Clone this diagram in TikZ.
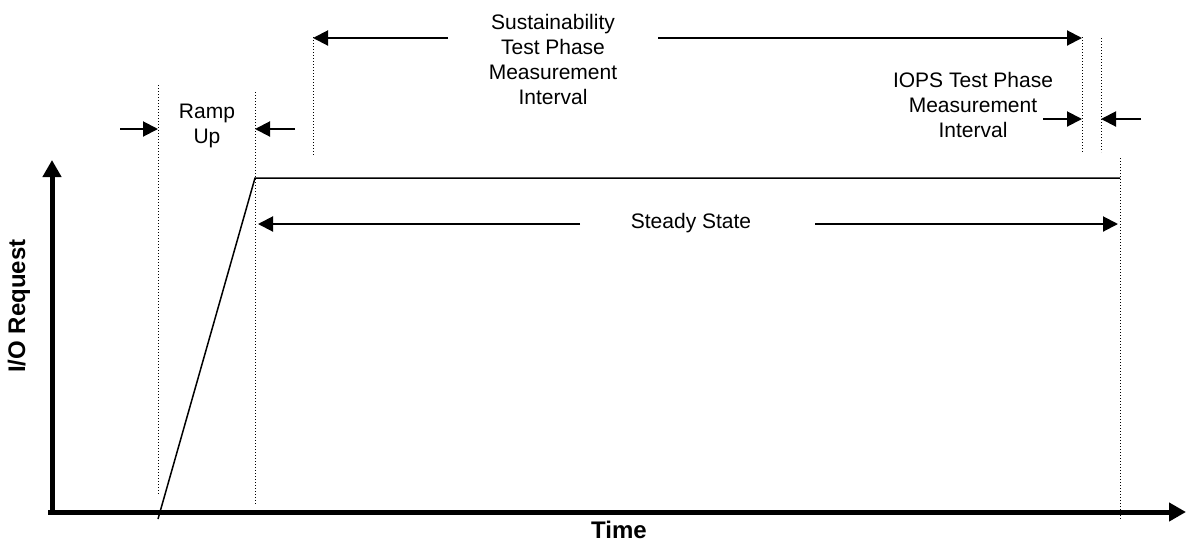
\documentclass[tikz,border=0pt]{standalone}
\usepackage{fontspec}
\setmainfont{Liberation Sans}
\usetikzlibrary{arrows.meta}
\begin{document}
\begin{tikzpicture}[x=1pt,y=-1pt,
  axis/.style={line width=5pt,-{Triangle[length=17pt,width=18pt]}},
  dimarrow/.style={line width=2pt,-{Triangle[length=15pt,width=15pt]}},
  guide/.style={line width=1pt,dash pattern=on 1pt off 2pt},
  curve/.style={line width=1.5pt},
  lbl/.style={font=\fontsize{21}{25}\selectfont,align=center,inner sep=0pt},
  blbl/.style={font=\fontsize{24}{28}\selectfont\bfseries,inner sep=0pt}]
\useasboundingbox (0,0) rectangle (1187,542);
% axes
\coordinate (o) at (52,512);
\coordinate (ytop) at (52,160);
\coordinate (xs) at (48,512);
\coordinate (xend) at (1186,512);
\draw[axis] (xs) -- (xend);
\draw[line width=5pt,-{Triangle[length=17pt,width=18pt]}] (52,514.5) -- (ytop);
% ramp curve
\coordinate (r0) at (158,519);
\coordinate (r1) at (255,178);
\coordinate (r2) at (1120,178);
\draw[curve,line join=miter] (r0) -- (r1) -- (r2);
% guides
\coordinate (g1a) at (158,85);   \coordinate (g1b) at (158,495);
\coordinate (g2a) at (255,92);   \coordinate (g2b) at (255,505);
\coordinate (g3a) at (313,37);   \coordinate (g3b) at (313,155);
\coordinate (g4a) at (1082,37);  \coordinate (g4b) at (1082,152);
\coordinate (g5a) at (1101,38);  \coordinate (g5b) at (1101,152);
\coordinate (g6a) at (1120,158); \coordinate (g6b) at (1120,520);
\foreach \g in {1,...,6} \draw[guide] (g\g a) -- (g\g b);
% labels
\node[lbl] (ramp) at (207,126) {Ramp\\Up};
\node[lbl] (sust) at (553,59) {Sustainability\\Test Phase\\Measurement\\Interval};
\node[lbl] (iops) at (973,105) {IOPS Test Phase\\Measurement\\Interval};
\node[lbl] (steady) at (691,223) {Steady State};
\node[blbl,rotate=90] (ylab) at (19,306) {I/O Request};
\node[blbl] (xlab) at (619,530) {Time};
% dimension arrows
\coordinate (a1s) at (120,129); \coordinate (a1e) at (158,129);
\coordinate (a2s) at (295,129); \coordinate (a2e) at (255,129);
\draw[dimarrow] (a1s) -- (a1e);
\draw[dimarrow] (a2s) -- (a2e);
\coordinate (s1s) at (448,38); \coordinate (s1e) at (313,38);
\coordinate (s2s) at (658,38); \coordinate (s2e) at (1082,38);
\draw[dimarrow] (s1s) -- (s1e);
\draw[dimarrow] (s2s) -- (s2e);
\coordinate (i1s) at (1043,119); \coordinate (i1e) at (1082,119);
\coordinate (i2s) at (1141,119); \coordinate (i2e) at (1101,119);
\draw[dimarrow] (i1s) -- (i1e);
\draw[dimarrow] (i2s) -- (i2e);
\coordinate (d1s) at (580,224); \coordinate (d1e) at (258,224);
\coordinate (d2s) at (815,224); \coordinate (d2e) at (1118,224);
\draw[dimarrow] (d1s) -- (d1e);
\draw[dimarrow] (d2s) -- (d2e);
\end{tikzpicture}
\end{document}
